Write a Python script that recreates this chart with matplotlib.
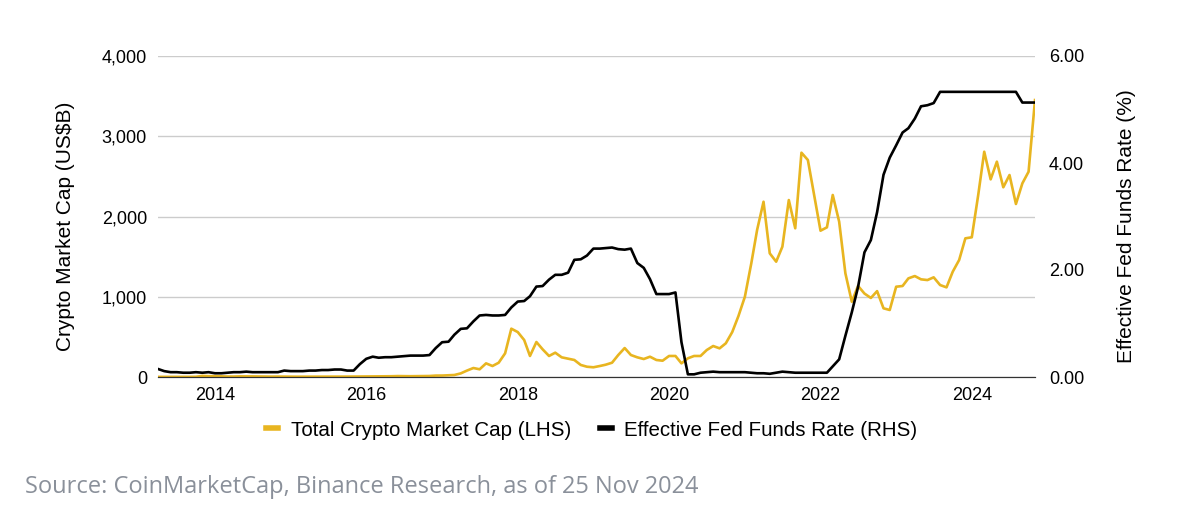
import matplotlib
matplotlib.use('Agg')
import matplotlib.pyplot as plt
import matplotlib.dates as mdates
import pandas as pd

plt.rcParams['font.family'] = ['Liberation Sans', 'DejaVu Sans']

# monthly points, Apr 2013 - Nov 2024
dates = pd.date_range('2013-04-01', '2024-11-01', freq='MS')

# Total crypto market cap, US$B (month-end)
crypto_cap = [
    1.5, 1.3, 1.1, 1.2, 1.5, 1.6, 2.5, 13.8, 10.0,
    10.5, 7.5, 5.7, 5.6, 8.0, 8.0, 7.5, 6.5, 5.2, 4.8, 5.4, 4.4,
    3.2, 3.6, 3.6, 3.4, 3.5, 3.8, 4.4, 3.7, 3.7, 4.9, 5.5, 6.9,
    6.6, 7.3, 7.2, 7.6, 9.4, 11.5, 10.2, 9.7, 10.3, 11.7, 12.4, 17.7,
    18, 22, 25, 45, 80, 112, 96, 170, 137, 178, 295, 602,
    560, 461, 262, 436, 345, 262, 303, 245, 228, 212, 150, 128,
    121, 137, 153, 178, 274, 361, 274, 245, 224, 253, 212, 203,
    262, 262, 170, 233, 262, 262, 336, 386, 357, 420, 560, 760,
    1000, 1417, 1832, 2184, 1541, 1437, 1624, 2205, 1853, 2795, 2704, 2268,
    1823, 1865, 2268, 1935, 1292, 938, 1135, 1040, 985, 1070, 856, 835,
    1125, 1134, 1229, 1258, 1217, 1208, 1242, 1146, 1117, 1312, 1458, 1728,
    1741, 2268, 2807, 2463, 2683, 2364, 2517, 2156, 2413, 2558, 3451,
]

# Effective fed funds rate, %
fed_rate = [
    0.15, 0.11, 0.09, 0.09, 0.08, 0.08, 0.09, 0.08, 0.09,
    0.07, 0.07, 0.08, 0.09, 0.09, 0.10, 0.09, 0.09, 0.09, 0.09, 0.09, 0.12,
    0.11, 0.11, 0.11, 0.12, 0.12, 0.13, 0.13, 0.14, 0.14, 0.12, 0.12, 0.24,
    0.34, 0.38, 0.36, 0.37, 0.37, 0.38, 0.39, 0.40, 0.40, 0.40, 0.41, 0.54,
    0.65, 0.66, 0.79, 0.90, 0.91, 1.04, 1.15, 1.16, 1.15, 1.15, 1.16, 1.30,
    1.41, 1.42, 1.51, 1.69, 1.70, 1.82, 1.91, 1.91, 1.95, 2.19, 2.20, 2.27,
    2.40, 2.40, 2.41, 2.42, 2.39, 2.38, 2.40, 2.13, 2.04, 1.83, 1.55, 1.55,
    1.55, 1.58, 0.65, 0.05, 0.05, 0.08, 0.09, 0.10, 0.09, 0.09, 0.09, 0.09,
    0.09, 0.08, 0.07, 0.07, 0.06, 0.08, 0.10, 0.09, 0.08, 0.08, 0.08, 0.08,
    0.08, 0.08, 0.20, 0.33, 0.77, 1.21, 1.68, 2.33, 2.56, 3.08, 3.78, 4.10,
    4.33, 4.57, 4.65, 4.83, 5.06, 5.08, 5.12, 5.33, 5.33, 5.33, 5.33, 5.33,
    5.33, 5.33, 5.33, 5.33, 5.33, 5.33, 5.33, 5.33, 5.13, 5.13, 5.13,
]

yellow = '#E8B520'
fs = 13

fig = plt.figure(figsize=(11.86, 5.16), dpi=100)
ax = fig.add_axes([158 / 1186, 1 - 377 / 516, 877 / 1186, 321 / 516])
ax2 = ax.twinx()

l1, = ax.plot(dates, crypto_cap, color=yellow, lw=1.9, label='Total Crypto Market Cap (LHS)')
l2, = ax2.plot(dates, fed_rate, color='black', lw=1.9, label='Effective Fed Funds Rate (RHS)')

ax.set_xlim(dates[0], dates[-1])
ax.set_ylim(0, 4000)
ax2.set_ylim(0, 6)
ax.set_yticks([0, 1000, 2000, 3000, 4000])
ax2.set_yticks([0, 2, 4, 6])
ax.set_yticklabels([f'{v:,}' for v in [0, 1000, 2000, 3000, 4000]])
ax2.set_yticklabels([f'{v:.2f}' for v in [0, 2, 4, 6]])

ax.xaxis.set_major_locator(mdates.YearLocator(2))
ax.xaxis.set_major_formatter(mdates.DateFormatter('%Y'))

ax.grid(axis='y', color='#cccccc', lw=1)
ax.set_axisbelow(True)
for a in (ax, ax2):
    for s in ('top', 'left', 'right'):
        a.spines[s].set_visible(False)
    a.spines['bottom'].set_color('#333333')
    a.tick_params(length=0, labelsize=fs, colors='black')
ax.tick_params(axis='y', pad=8)
ax2.tick_params(axis='y', pad=10)
ax.tick_params(axis='x', pad=7)

ax.set_ylabel('Crypto Market Cap (US$B)', fontsize=15, labelpad=19, y=0.47)
ax2.set_ylabel('Effective Fed Funds Rate (%)', fontsize=15, labelpad=24, y=0.47)

leg = fig.legend(handles=[l1, l2], loc='center', bbox_to_anchor=(0.499, 1 - 430 / 516),
                 ncol=2, frameon=False, fontsize=14.8, handlelength=0.6,
                 handletextpad=0.6, columnspacing=1.4)
for h in leg.get_lines():
    h.set_linewidth(4)

fig.text(25 / 1186, 1 - 487 / 516, 'Source: CoinMarketCap, Binance Research, as of 25 Nov 2024',
         fontsize=17, color='#8a909a', family=['Open Sans', 'DejaVu Sans'], va='center')

fig.savefig('out.png', dpi=100)
